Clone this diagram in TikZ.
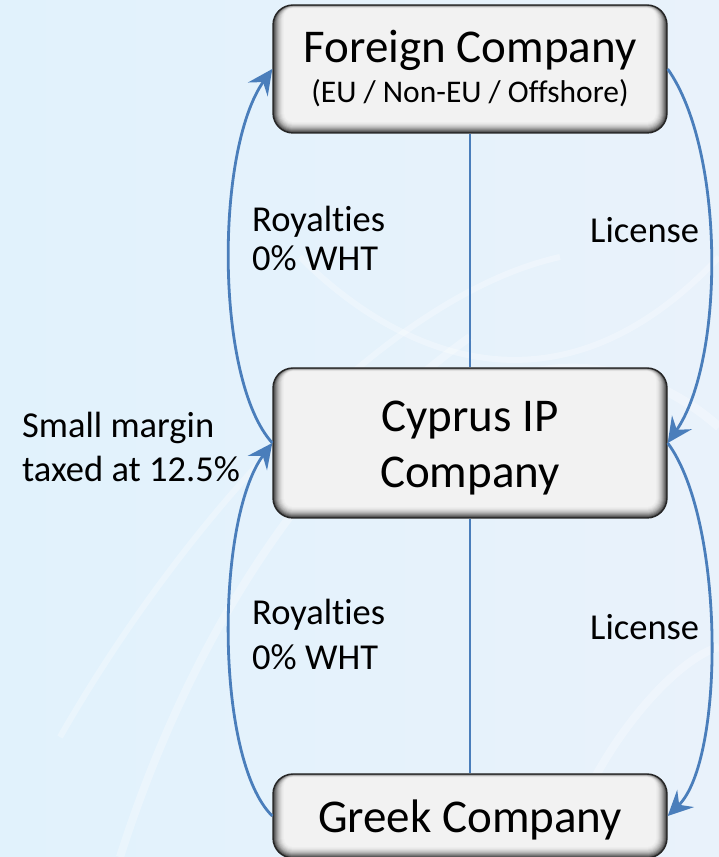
\documentclass[tikz,border=0pt]{standalone}
\usepackage{fontspec}
\setmainfont{Carlito}[Ligatures=NoCommon]
\usetikzlibrary{arrows.meta,calc}
\definecolor{conn}{RGB}{74,126,187}
\definecolor{boxfill}{RGB}{242,242,242}
\definecolor{bgA}{RGB}{225,242,252}
\definecolor{bgB}{RGB}{233,242,251}
\tikzset{
  box/.style={draw=black!85, line width=1.4pt, rounded corners=20pt, fill=boxfill,
    minimum width=394pt, inner sep=0pt,
    path picture={
      \foreach \i in {0,...,11}{
        \pgfmathtruncatemacro{\pc}{75*(1-\i/12)^2}
        \pgfmathtruncatemacro{\rr}{max(20-\i,4)}
        \fill[black!\pc!boxfill, rounded corners=\rr pt]
          ($(path picture bounding box.south west)+(\i,\i)$) rectangle
          ($(path picture bounding box.north east)+(-\i,-0.3*\i)$);
      }}},
  title/.style={font=\fontsize{47}{56}\selectfont, anchor=base, inner sep=0pt},
  subtitle/.style={font=\fontsize{31.5}{37}\selectfont, anchor=base, inner sep=0pt},
  lab/.style={font=\fontsize{36.5}{43}\selectfont, anchor=base west, inner sep=0pt},
  flow/.style={draw=conn, line width=2.8pt, -{Stealth[length=25pt,width=24pt,inset=9pt]}},
  link/.style={draw=conn, line width=1.5pt},
  swirl/.style={draw=white, opacity=0.3, line width=#1}
}
\begin{document}
\begin{tikzpicture}[x=1pt,y=1pt]
\useasboundingbox (0,0) rectangle (719,857);
\shade[left color=bgA, right color=bgB] (0,0) rectangle (719,857);
\begin{scope}
\clip (0,0) rectangle (719,857);
% faint background swirls
\draw[swirl=8pt] (120,0) .. controls (200,250) and (330,420) .. (470,520);
\draw[swirl=6pt] (60,120) .. controls (180,330) and (380,560) .. (560,600);
\draw[swirl=9pt] (420,420) .. controls (520,520) and (640,500) .. (719,430);
\draw[swirl=6pt] (300,600) .. controls (400,500) and (560,430) .. (719,600);
\draw[swirl=8pt] (560,0) .. controls (600,120) and (680,200) .. (719,210);
% boxes
\node[box, minimum height=128pt] (fc) at (470,788) {};
\node[box, minimum height=150pt] (cy) at (470,414) {};
\node[box, minimum height=84pt] (gr) at (470,41) {};
\end{scope}
% box texts
\node[title] (fct) at (470,794) {Foreign Company};
\node[subtitle] (fcs) at (470,754) {(EU / Non-EU / Offshore)};
\node[title] (cyt1) at (470,425) {Cyprus IP};
\node[title] (cyt2) at (470,369) {Company};
\node[title] (grt) at (470,24) {Greek Company};
% vertical links
\draw[link] (fc.south) -- (cy.north);
\draw[link] (cy.south) -- (gr.north);
% arcs
\draw[flow] (cy.west) .. controls (215,477) and (215,707) .. (fc.west);
\draw[flow] (gr.west) .. controls (215,97) and (215,337) .. (cy.west);
\draw[flow] (fc.east) .. controls (725,707) and (725,497) .. (cy.east);
\draw[flow] (cy.east) .. controls (725,337) and (725,97) .. (gr.east);
% labels
\node[lab] (r1a) at (252,625) {Royalties};
\node[lab] (r1b) at (252,586) {0\% WHT};
\node[lab] (r2a) at (252,232) {Royalties};
\node[lab] (r2b) at (252,187) {0\% WHT};
\node[lab] (sm1) at (22,419) {Small margin};
\node[lab] (sm2) at (22,375) {taxed at 12.5\%};
\node[lab] (l1) at (590,614) {License};
\node[lab] (l2) at (590,217) {License};
\end{tikzpicture}
\end{document}
